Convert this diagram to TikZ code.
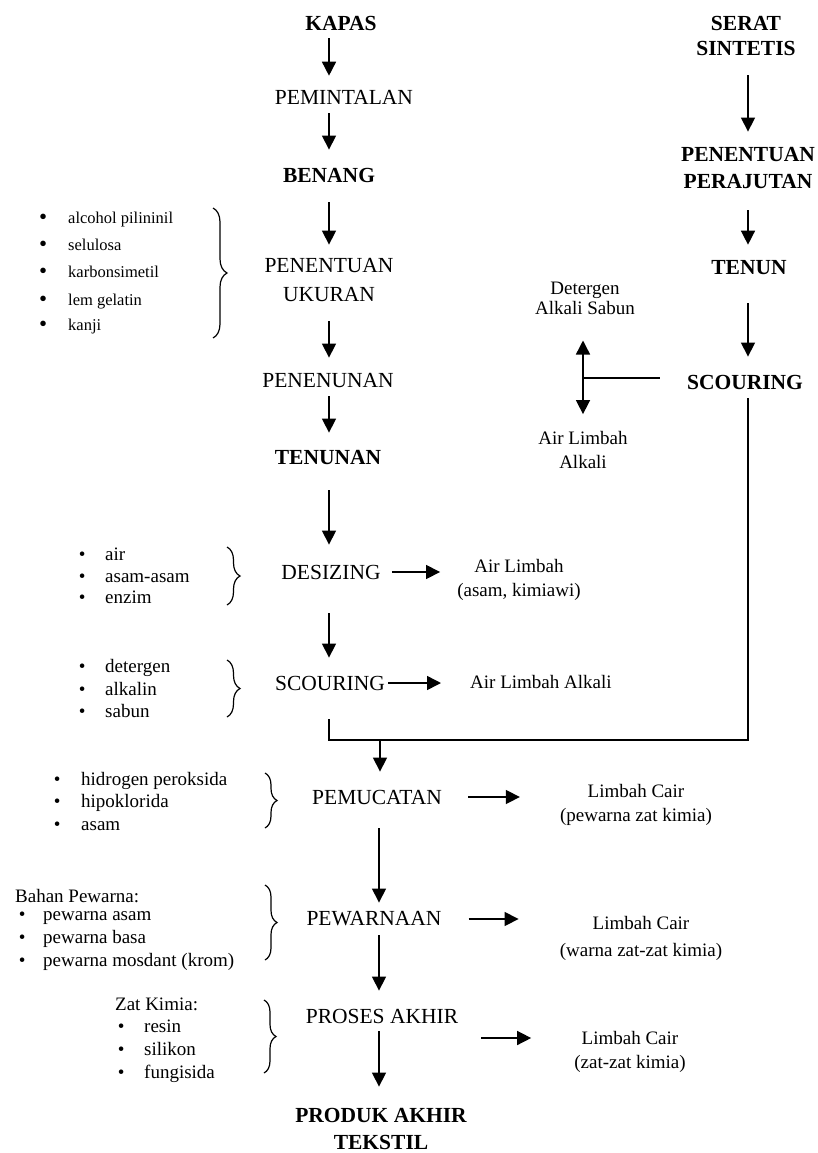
\documentclass[tikz,border=0pt]{standalone}
\usepackage{fontspec}
\setmainfont{Liberation Serif}
\usetikzlibrary{arrows.meta,decorations.pathreplacing}
\newcommand\bl[1]{\makebox[#1][l]{\textbullet}}
\newcommand\bbl[1]{\makebox[#1][l]{\raisebox{-1pt}{\fontsize{23}{23}\selectfont\textbullet}}}
\begin{document}
\begin{tikzpicture}[x=1pt,y=-1pt,
  main/.style={inner sep=0pt,font=\fontsize{21.5}{29}\selectfont,align=center},
  mainb/.style={inner sep=0pt,font=\fontsize{21.5}{27}\selectfont\bfseries,align=center},
  side/.style={inner sep=0pt,font=\fontsize{19}{24}\selectfont,align=center},
  itm/.style={inner sep=0pt,anchor=base west,font=\fontsize{19}{19}\selectfont},
  itms/.style={inner sep=0pt,anchor=base west,font=\fontsize{16.5}{16.5}\selectfont},
  arr/.style={line width=1.5pt,-{Triangle[width=14pt,length=14pt]}},
  ln/.style={line width=1.5pt},
  brc/.style={line width=1.2pt,decorate,decoration={brace,amplitude=#1}},
]
\useasboundingbox (0,0) rectangle (818,1153);

% column coordinates
\coordinate (cL) at (329,0);
\coordinate (cR) at (748,0);
\coordinate (cB) at (379,0);
\coordinate (jL) at (329,740);
\coordinate (jR) at (748,740);
\coordinate (jM) at (380,740);
\coordinate (bx) at (583,378);

% main left column
\node[mainb] (kapas) at (341,23) {KAPAS};
\node[main] (pemint) at (344,97) {PEMINTALAN};
\node[mainb] (benang) at (329,175) {BENANG};
\node[main] (penent) at (329,280.5) {PENENTUAN\\UKURAN};
\node[main] (penen) at (328,381) {PENENUNAN};
\node[mainb] (tenunan) at (328,457) {TENUNAN};
\node[main] (desz) at (331,572) {DESIZING};
\node[main] (scl) at (330,683) {SCOURING};
\node[main] (pemu) at (377,797) {PEMUCATAN};
\node[main] (pew) at (374,919) {PEWARNAAN};
\node[main] (pros) at (382,1016) {PROSES AKHIR};
\node[mainb] (prod) at (381,1128.5) {PRODUK AKHIR\\TEKSTIL};

% right column
\node[mainb,font=\fontsize{21.5}{25}\selectfont\bfseries] (serat) at (746,35.5) {SERAT\\SINTETIS};
\node[mainb] (perj) at (748,168.5) {PENENTUAN\\PERAJUTAN};
\node[mainb] (tenun) at (749,268) {TENUN};
\node[mainb] (scr) at (745,382) {SCOURING};

% side texts
\node[side,font=\fontsize{19}{20}\selectfont] (det) at (585,298) {Detergen\\Alkali Sabun};
\node[side] (alk) at (583,450) {Air Limbah\\Alkali};
\node[side] (air1) at (519,580) {Air Limbah\\(asam, kimiawi)};
\node[side,anchor=west] (air2) at (470,682) {Air Limbah Alkali};
\node[side] (lc1) at (636,805) {Limbah Cair\\(pewarna zat kimia)};
\node[side,font=\fontsize{19}{27}\selectfont] (lc2) at (641,938.5) {Limbah Cair\\(warna zat-zat kimia)};
\node[side] (lc3) at (630,1051.5) {Limbah Cair\\(zat-zat kimia)};

% lists
\node[itms] (a1) at (39,223) {\bbl{29pt}alcohol pilininil};
\node[itms] (a2) at (39,250) {\bbl{29pt}selulosa};
\node[itms] (a3) at (39,277) {\bbl{29pt}karbonsimetil};
\node[itms] (a4) at (39,305) {\bbl{29pt}lem gelatin};
\node[itms] (a5) at (39,330) {\bbl{29pt}kanji};

\node[itm] (b1) at (78.7,560) {\bl{26.3pt}air};
\node[itm] (b2) at (78.7,582) {\bl{26.3pt}asam-asam};
\node[itm] (b3) at (78.7,603.5) {\bl{26.3pt}enzim};

\node[itm] (c1) at (78.7,672.5) {\bl{26.3pt}detergen};
\node[itm] (c2) at (78.7,695.5) {\bl{26.3pt}alkalin};
\node[itm] (c3) at (78.7,717.5) {\bl{26.3pt}sabun};

\node[itm] (d1) at (53.7,785) {\bl{27.3pt}hidrogen peroksida};
\node[itm] (d2) at (53.7,807) {\bl{27.3pt}hipoklorida};
\node[itm] (d3) at (53.7,830) {\bl{27.3pt}asam};

\node[itm] (e0) at (15,902) {Bahan Pewarna:};
\node[itm] (e1) at (18.7,920) {\bl{24.3pt}pewarna asam};
\node[itm] (e2) at (18.7,943) {\bl{24.3pt}pewarna basa};
\node[itm] (e3) at (18.7,966) {\bl{24.3pt}pewarna mosdant (krom)};

\node[itm] (f0) at (115,1010) {Zat Kimia:};
\node[itm] (f1) at (117.7,1032) {\bl{26.3pt}resin};
\node[itm] (f2) at (117.7,1055) {\bl{26.3pt}silikon};
\node[itm] (f3) at (117.7,1078) {\bl{26.3pt}fungisida};

% braces
\draw[brc=14pt] (213,208) -- (213,338);
\draw[brc=13pt] (227,547) -- (227,605);
\draw[brc=13pt] (227,660) -- (227,717);
\draw[brc=12pt] (265,773) -- (265,828);
\draw[brc=12pt] (265,885) -- (265,960);
\draw[brc=12pt] (264,1000) -- (264,1073);

% left column arrows
\draw[arr,shorten <=8pt,shorten >=14pt] (kapas.south -| cL) -- (pemint.north -| cL);
\draw[arr,shorten <=9pt,shorten >=18pt] (pemint.south -| cL) -- (benang.north -| cL);
\draw[arr,shorten <=20pt,shorten >=14pt] (benang.south -| cL) -- (penent.north -| cL);
\draw[arr,shorten <=19pt,shorten >=16pt] (penent.south -| cL) -- (penen.north -| cL);
\draw[arr,shorten <=8pt,shorten >=17pt] (penen.south -| cL) -- (tenunan.north -| cL);
\draw[arr,shorten <=26pt,shorten >=20pt] (tenunan.south -| cL) -- (desz.north -| cL);
\draw[arr,shorten <=34pt,shorten >=18pt] (desz.south -| cL) -- (scl.north -| cL);

% merge
\draw[ln] ([yshift=-9pt]scr.south -| jR) -- (jR) -- (jL) -- ([yshift=-29pt]scl.south -| jL);
\draw[arr,shorten >=18pt] (jM) -- (pemu.north -| jM);
\draw[arr,shorten <=24pt,shorten >=9pt] (pemu.south -| cB) -- (pew.north -| cB);
\draw[arr,shorten <=9pt,shorten >=18pt] (pew.south -| cB) -- (pros.north -| cB);
\draw[arr,shorten <=8pt,shorten >=21pt] (pros.south -| cB) -- (prod.north -| cB);

% right column arrows
\draw[arr,shorten <=20pt,shorten >=16pt] (serat.south -| cR) -- (perj.north -| cR);
\draw[arr,shorten <=21pt,shorten >=16pt] (perj.south -| cR) -- (tenun.north -| cR);
\draw[arr,shorten <=28pt,shorten >=18pt] (tenun.south -| cR) -- (scr.north -| cR);

% branch at right scouring
\draw[ln] ([xshift=-27pt]scr.west |- bx) -- (bx);
\draw[arr] (bx) -- ([yshift=-26pt]det.south -| bx);
\draw[arr] (bx) -- ([yshift=17pt]alk.north -| bx);

% side arrows
\draw[arr,shorten <=11pt,shorten >=17pt] (desz.east) -- (desz.east -| air1.west);
\draw[arr,shorten <=3pt,shorten >=29pt] (scl.east) -- (scl.east -| air2.west);
\draw[arr,shorten <=26pt,shorten >=40pt] (pemu.east) -- (pemu.east -| lc1.west);
\draw[arr,shorten <=27pt,shorten >=41pt] (pew.east) -- (pew.east -| lc2.west);
\draw[arr,shorten <=23pt,shorten >=43pt] ([yshift=-22pt]pros.east) -- ([yshift=-22pt]pros.east -| lc3.west);
\end{tikzpicture}
\end{document}
